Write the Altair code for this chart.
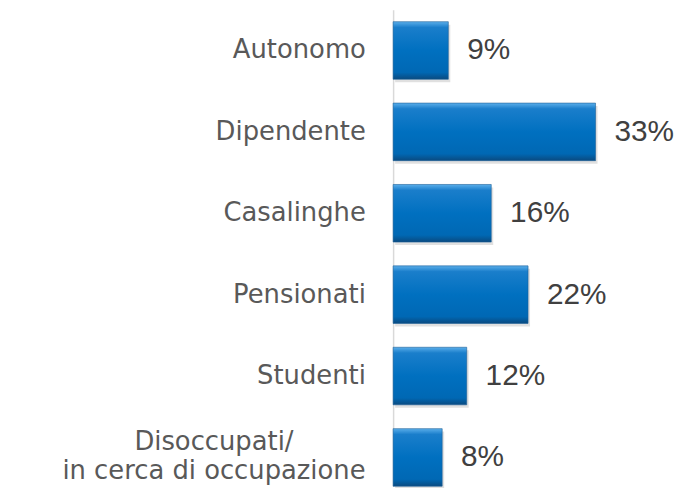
import altair as alt
import pandas as pd

categories = ["Autonomo", "Dipendente", "Casalinghe", "Pensionati", "Studenti",
              "Disoccupati/|in cerca di occupazione"]
values = [9, 33, 16, 22, 12, 8]
value_labels = ["9%", "33%", "16%", "22%", "12%", "8%"]

df = pd.DataFrame({"cat": categories, "val": values, "lab": value_labels})

W, H = 284, 480
LONG = "Disoccupati/|in cerca di occupazione"
TEST = f"datum.value === '{LONG}'"

x = alt.X("val:Q", scale=alt.Scale(domain=[0, W / 6.18], nice=False, zero=True), axis=None)
y = alt.Y(
    "cat:N",
    sort=None,
    scale=alt.Scale(paddingInner=24 / 82, paddingOuter=0.0732, align=1),
    axis=alt.Axis(
        title=None,
        ticks=False,
        domain=True,
        domainColor="#D9D9D9",
        domainWidth=1.5,
        labelFont="DejaVu Sans",
        labelFontSize=26,
        labelColor="#595959",
        labelExpr="split(datum.label, '|')",
        labelLineHeight=29,
        labelLimit=400,
        labelAlign={"condition": {"test": TEST, "value": "center"}, "value": "right"},
        labelPadding={"condition": {"test": TEST, "value": 181}, "value": 28},
        labelOffset={"condition": {"test": TEST, "value": -15}, "value": 0},
    ),
)

grad = alt.LinearGradient(
    gradient="linear", x1=0, y1=0, x2=0, y2=1,
    stops=[
        alt.GradientStop(offset=0, color="#5AAEEA"),
        alt.GradientStop(offset=0.1, color="#1A7ECB"),
        alt.GradientStop(offset=0.5, color="#0070C0"),
        alt.GradientStop(offset=0.88, color="#0068B4"),
        alt.GradientStop(offset=1, color="#0A4A80"),
    ],
)

shadow = alt.Chart(df).mark_bar(color="#000000", opacity=0.12, yOffset=3, xOffset=2).encode(x=x, y=y)
bars = alt.Chart(df).mark_bar(color=grad, stroke="#1B5E96", strokeWidth=0.6).encode(x=x, y=y)
text = alt.Chart(df).mark_text(
    align="left", baseline="middle", dx=19, font="Liberation Sans", fontSize=30, color="#404040"
).encode(x=x, y=y, text="lab:N")

chart = (
    alt.layer(shadow, bars, text)
    .properties(width=W, height=H, autosize=alt.AutoSizeParams(type="none"),
                padding={"left": 388, "top": 0, "right": 0, "bottom": 0})
    .configure_view(stroke=None)
)

chart.save("out.html", embed_options={"renderer": "svg", "actions": False})
